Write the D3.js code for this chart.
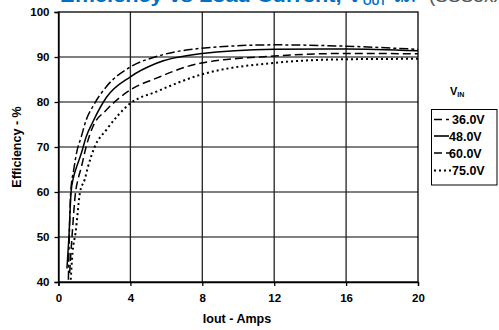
<!DOCTYPE html>
<html><head><meta charset="utf-8">
<script src="https://cdn.jsdelivr.net/npm/d3@7"></script>
<style>body{margin:0;background:#fff}svg{display:block}text{font-family:Arial,"Liberation Sans",sans-serif}</style>
</head><body><svg id="c" width="499" height="330"></svg>
<script>
const xTicks = [0, 4, 8, 12, 16, 20];
const yTicks = [40, 50, 60, 70, 80, 90, 100];
const seriesNames = ["36.0V", "48.0V", "60.0V", "75.0V"];
const iout36 = [0.55,0.6,0.68,0.85,1.0,1.27,1.54,1.91,2.66,4,5.45,7.86,12,16,20];
const eff36  = [40.5,50,60,65,68.6,72.3,76,79,83.4,87.8,90.1,91.9,92.7,92.4,91.7];
const iout48 = [0.47,0.58,0.7,0.85,1.0,1.27,1.54,1.9,2.66,4,5.45,7.86,12,16,20];
const eff48  = [43,50,60,63.5,65.5,68.6,72.3,75.5,81,85.6,88.6,90.7,91.7,91.8,91.4];
const iout60 = [0.62,0.75,0.95,1.1,1.27,1.54,1.91,2.66,4,5.45,7.86,12,16,20];
const eff60  = [42,50,60,63,65.5,70.1,74.5,78.2,82.7,85.3,88.6,90.2,90.8,90.7];
const iout75 = [0.68,0.78,0.95,1.2,1.45,1.64,2.01,2.66,4,5.45,7.86,12,16,20];
const eff75  = [40.5,46.5,51,60,62.7,65.6,70,73.8,79.7,82.3,86,88.7,89.5,89.6];

const svg = d3.select("#c");
const x = d3.scaleLinear().domain([0,20]).range([58.5,418]);
const y = d3.scaleLinear().domain([40,100]).range([282,12]);

// title (cut at top edge, as in the reference)
const tg = svg.append("g").attr("fill","#0070C0").attr("font-weight","bold");
tg.append("text").attr("x",60).attr("y",1.5).attr("font-size",19)
  .attr("textLength",302).attr("lengthAdjust","spacingAndGlyphs").text("Efficiency vs Load Current, V");
tg.append("text").attr("x",363).attr("y",4.5).attr("font-size",11).text("OUT");
tg.append("text").attr("x",385).attr("y",1.5).attr("font-size",17)
  .attr("textLength",32).attr("lengthAdjust","spacingAndGlyphs").text("= 3.3V");
svg.append("text").attr("x",429).attr("y",1.5).attr("fill","#555")
  .attr("font-family","'Liberation Serif',serif").attr("font-size",19).text("(SSS5xxx)");

// grid
svg.append("g").selectAll("line").data(yTicks.slice(1,-1)).join("line")
  .attr("x1",x(0)).attr("x2",x(20)).attr("y1",d=>y(d)).attr("y2",d=>y(d))
  .attr("stroke","#555").attr("stroke-width",1.4);
svg.append("g").selectAll("line").data(xTicks.slice(1,-1)).join("line")
  .attr("y1",y(40)).attr("y2",y(100)).attr("x1",d=>x(d)).attr("x2",d=>x(d))
  .attr("stroke","#222").attr("stroke-width",1.3);
svg.append("rect").attr("x",x(0)).attr("y",y(100)).attr("width",x(20)-x(0)).attr("height",y(40)-y(100))
  .attr("fill","none").attr("stroke","#000").attr("stroke-width",1.3);

// axes
const ax = svg.append("g").attr("transform",`translate(0,${y(40)})`)
  .call(d3.axisBottom(x).tickValues(xTicks).tickSize(4).tickPadding(8));
const ay = svg.append("g").attr("transform",`translate(${x(0)},0)`)
  .call(d3.axisLeft(y).tickValues(yTicks).tickSize(4).tickPadding(5));
[ax,ay].forEach(a=>{
  a.select(".domain").attr("stroke","#000").attr("stroke-width",1.3);
  a.selectAll(".tick line").attr("stroke","#000").attr("stroke-width",1.3);
  a.selectAll("text").attr("font-family","Arial,'Liberation Sans',sans-serif")
    .attr("font-weight","bold").attr("font-size",11.5).attr("fill","#000");
});

svg.append("text").attr("x",237).attr("y",323).attr("text-anchor","middle")
  .attr("font-weight","bold").attr("font-size",12.5).text("Iout - Amps");
svg.append("text").attr("transform","translate(21,147) rotate(-90)").attr("text-anchor","middle")
  .attr("font-weight","bold").attr("font-size",12.5).text("Efficiency - %");

// curves
const dashes = ["9,3,3,3", null, "8,4", "2,3"];
const data = [[iout36,eff36],[iout48,eff48],[iout60,eff60],[iout75,eff75]];
const line = d3.line().x(d=>x(d[0])).y(d=>y(d[1])).curve(d3.curveMonotoneX);
const plot = svg.append("g");
data.forEach((s,i)=>{
  const pts = s[0].map((v,j)=>[v,s[1][j]]);
  plot.append("path").attr("d",line(pts)).attr("fill","none").attr("stroke","#000")
    .attr("stroke-width", i===3?2:1.5).attr("stroke-dasharray",dashes[i]);
});

// legend
const lt = svg.append("text").attr("x",450).attr("y",95).attr("font-weight","bold").attr("font-size",11);
lt.append("tspan").text("V");
lt.append("tspan").attr("font-size",7).attr("dy",2).text("IN");
svg.append("rect").attr("x",431.5).attr("y",109.5).attr("width",65.5).attr("height",75.5)
  .attr("fill","#fff").attr("stroke","#000").attr("stroke-width",1);
const ly = [119.5,136,153,170.5];
const legDash = ["8,4,3,3", null, "8,4", "2,3"];
const lg = svg.append("g");
seriesNames.forEach((n,i)=>{
  lg.append("line").attr("x1",434).attr("x2",i===1?449:451).attr("y1",ly[i]).attr("y2",ly[i])
    .attr("stroke","#000").attr("stroke-width",i===3?2:1.6).attr("stroke-dasharray",legDash[i]);
  lg.append("text").attr("x",i===1||i===2?449:452).attr("y",ly[i]+4.5).attr("font-weight","bold")
    .attr("font-size",12.5).text(n);
});
</script></body></html>
